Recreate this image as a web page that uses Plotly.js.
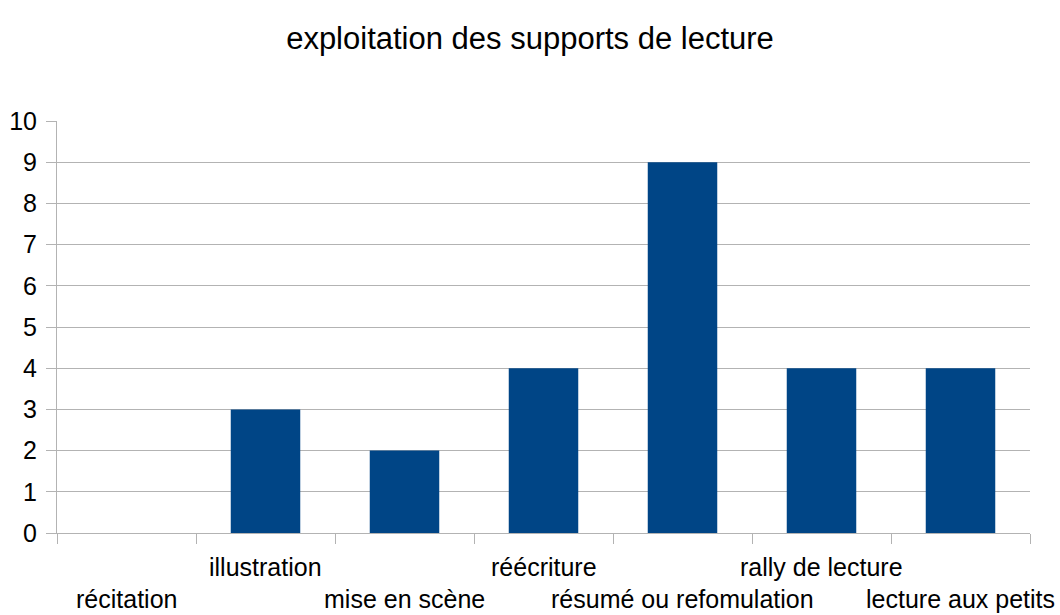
<!DOCTYPE html>
<html>
<head>
<meta charset="utf-8">
<script src="https://cdn.plot.ly/plotly-3.0.1.min.js"></script>
<style>html,body{margin:0;padding:0;background:#fff;}#chart{width:1060px;height:615px;}</style>
</head>
<body>
<div id="chart"></div>
<script>
const categories = ["récitation", "illustration", "mise en scène", "réécriture", "résumé ou refomulation", "rally de lecture", "lecture aux petits"];
const values = [0, 3, 2, 4, 9, 4, 4];
const yTicks = [0, 1, 2, 3, 4, 5, 6, 7, 8, 9, 10];
const chartTitle = "exploitation des supports de lecture";

const FONT = "Liberation Sans, Arial, sans-serif";
const GRID = "#b3b3b3";

const annotations = categories.map((c, i) => ({
  x: c, xref: "x", y: 0, yref: "y",
  text: c, showarrow: false,
  xanchor: "center", yanchor: "middle",
  yshift: (i % 2 === 1) ? -34 : -66,
  font: {family: FONT, size: 25, color: "#000"}
}));

const trace = {
  type: "bar",
  x: categories,
  y: values,
  marker: {color: "#004586", line: {width: 0}},
  hoverinfo: "none"
};

const layout = {
  width: 1060, height: 615,
  margin: {l: 57, r: 30, t: 121, b: 82},
  paper_bgcolor: "#fff", plot_bgcolor: "#fff",
  showlegend: false,
  bargap: 0.5,
  title: {
    text: chartTitle,
    font: {family: FONT, size: 31, color: "#000"},
    x: 0.5, xanchor: "center",
    y: 1 - 38/615, yanchor: "middle", yref: "container"
  },
  xaxis: {
    type: "category",
    tickson: "boundaries",
    ticks: "outside", ticklen: 10, tickcolor: GRID, tickwidth: 1,
    showticklabels: false,
    showgrid: false,
    showline: true, linecolor: GRID, linewidth: 1,
    range: [-0.5, categories.length - 0.5],
    fixedrange: true
  },
  yaxis: {
    range: [0, 10],
    tickvals: yTicks,
    ticktext: yTicks.map(String),
    ticks: "outside", ticklen: 10, tickcolor: GRID, tickwidth: 1,
    ticklabelstandoff: 4,
    showgrid: true, gridcolor: GRID, gridwidth: 1,
    showline: true, linecolor: GRID, linewidth: 1,
    zeroline: false,
    tickfont: {family: FONT, size: 25, color: "#000"},
    fixedrange: true
  },
  annotations: annotations
};

Plotly.newPlot("chart", [trace], layout, {displayModeBar: false, staticPlot: true});
</script>
</body>
</html>
